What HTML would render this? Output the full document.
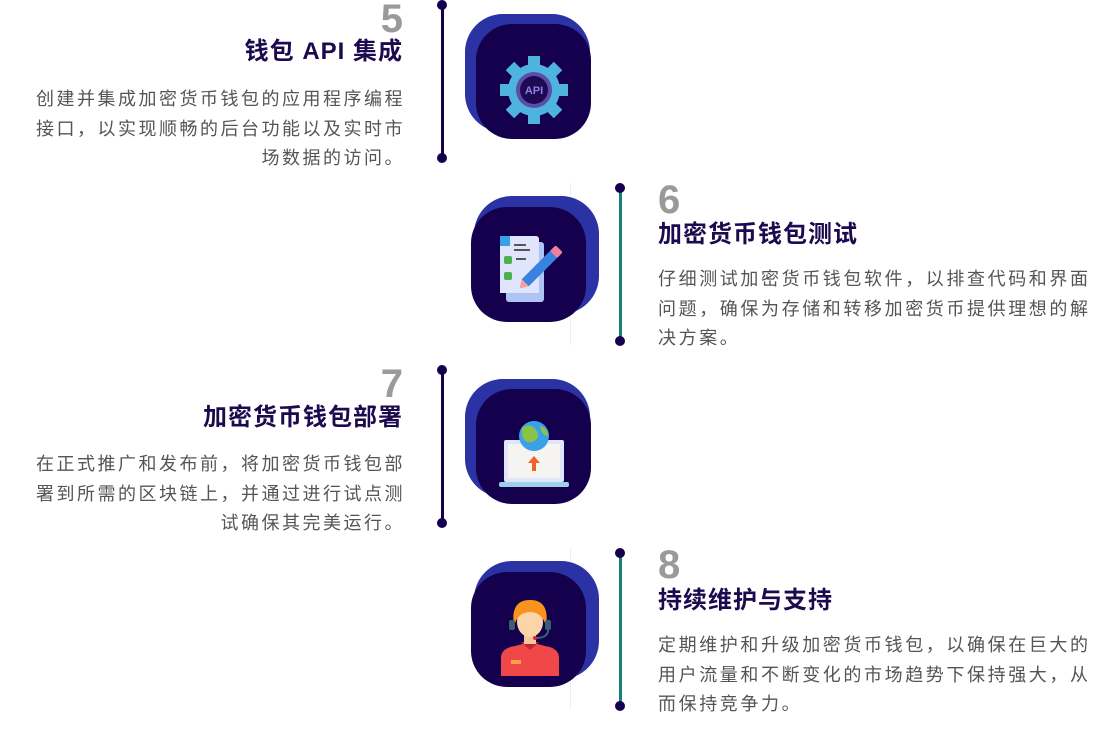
<!DOCTYPE html>
<html><head><meta charset="utf-8"><style>
body{margin:0;width:1119px;height:750px;background:#fff;position:relative;overflow:hidden;font-family:"Liberation Sans","Noto Sans CJK SC",sans-serif}
.a{position:absolute}
.num{font-size:40px;font-weight:bold;color:#9a9a9a;line-height:40px}
.tt{font-size:24px;font-weight:bold;color:#1c0a4e;line-height:32px;letter-spacing:1px}
.ds{font-size:18px;color:#555;line-height:29.5px}
.L{text-align:right;right:716px;width:420px;white-space:nowrap}
.L.ds{letter-spacing:2.5px;right:714px}
.R{left:658px;width:442px}
.R.ds{letter-spacing:2.6px}
.back{position:absolute;width:125px;height:118px;background:#2a32a4;border-radius:38px}
.front{position:absolute;width:115px;height:115px;background:#14004c;border-radius:36px}
.vl{position:absolute;width:3px;background:#14004c}
.dot{position:absolute;width:10px;height:10px;border-radius:50%;background:#14004c}
.gl{position:absolute;width:1px;background:#eee}
</style></head><body>

<!-- 5 -->
<div class="a L num" style="top:-1px">5</div>
<div class="a L tt" style="top:36px">钱包 API 集成</div>
<div class="a L ds" style="top:85px">创建并集成加密货币钱包的应用程序编程<br>接口，以实现顺畅的后台功能以及实时市<br>场数据的访问。</div>
<div class="vl" style="left:441px;top:5px;height:153px"></div>
<div class="dot" style="left:437px;top:0px"></div>
<div class="dot" style="left:437px;top:153px"></div>
<div class="back" style="left:465px;top:14px"></div>
<div class="front" style="left:476px;top:24px"></div>
<svg class="a" style="left:496px;top:52px" width="76" height="76" viewBox="0 0 76 76">
<g fill="#4fb3e0"><circle cx="38" cy="38" r="26"/>
<g id="t"><rect x="32" y="4" width="12" height="12"/></g>
<use href="#t" transform="rotate(45 38 38)"/><use href="#t" transform="rotate(90 38 38)"/><use href="#t" transform="rotate(135 38 38)"/><use href="#t" transform="rotate(180 38 38)"/><use href="#t" transform="rotate(225 38 38)"/><use href="#t" transform="rotate(270 38 38)"/><use href="#t" transform="rotate(315 38 38)"/></g>
<circle cx="38" cy="38" r="18" fill="#5a4fa8"/><circle cx="38" cy="38" r="14" fill="#1e0a50"/>
<text x="38" y="42" font-size="11" font-weight="bold" fill="#8e7ef0" text-anchor="middle" font-family="Liberation Sans">API</text></svg>

<!-- 6 -->
<div class="gl" style="left:570px;top:183px;height:162px"></div>
<div class="vl" style="left:619px;top:188px;height:153px;background:#138080"></div>
<div class="dot" style="left:615px;top:183px"></div>
<div class="dot" style="left:615px;top:336px"></div>
<div class="back" style="left:474px;top:196px"></div>
<div class="front" style="left:471px;top:207px"></div>
<svg class="a" style="left:490px;top:232px" width="80" height="72" viewBox="0 0 80 72">
<rect x="16" y="10" width="38" height="60" rx="3" fill="#aec4f5"/>
<path d="M10 4h36a3 3 0 0 1 3 3v54h-39z" fill="#dfe6fb"/><path d="M10 4h10v10h-10z" fill="#3aa0e8"/>
<rect x="24" y="12" width="12" height="2" fill="#555"/><rect x="24" y="17" width="16" height="2" fill="#555"/>
<rect x="14" y="24" width="8" height="8" rx="2" fill="#4caf50"/><rect x="14" y="40" width="8" height="8" rx="2" fill="#4caf50"/>
<rect x="26" y="26" width="10" height="2" fill="#555"/>
<g transform="rotate(45 48 38)"><rect x="43" y="12" width="10" height="44" fill="#3a82e0"/><rect x="43" y="8" width="10" height="8" rx="2" fill="#f080a0"/><path d="M43 56h10l-5 8z" fill="#f4a0a0"/></g>
</svg>
<div class="a R num" style="top:180px">6</div>
<div class="a R tt" style="top:219px">加密货币钱包测试</div>
<div class="a R ds" style="top:265px">仔细测试加密货币钱包软件，以排查代码和界面问题，确保为存储和转移加密货币提供理想的解决方案。</div>

<!-- 7 -->
<div class="a L num" style="top:364px">7</div>
<div class="a L tt" style="top:402px">加密货币钱包部署</div>
<div class="a L ds" style="top:450px">在正式推广和发布前，将加密货币钱包部<br>署到所需的区块链上，并通过进行试点测<br>试确保其完美运行。</div>
<div class="vl" style="left:441px;top:370px;height:153px"></div>
<div class="dot" style="left:437px;top:365px"></div>
<div class="dot" style="left:437px;top:518px"></div>
<div class="back" style="left:465px;top:379px"></div>
<div class="front" style="left:476px;top:389px"></div>
<svg class="a" style="left:496px;top:418px" width="76" height="72" viewBox="0 0 76 72">
<rect x="8" y="22" width="60" height="42" rx="2" fill="#dfe6fb"/><rect x="12" y="26" width="52" height="34" fill="#f6f4f0"/>
<rect x="3" y="64" width="70" height="5" rx="2" fill="#9fd0ea"/>
<circle cx="38" cy="18" r="15" fill="#3aa0e8"/><path d="M26 10q8-6 14 2t-4 12q-8 2-10-8z" fill="#8bc34a"/><path d="M44 8q8 2 8 10q-6 0-8-10z" fill="#8bc34a"/>
<path d="M38 38l-6 7h4v8h4v-8h4z" fill="#f4602a"/></svg>

<!-- 8 -->
<div class="gl" style="left:570px;top:548px;height:162px"></div>
<div class="vl" style="left:619px;top:553px;height:153px;background:#138080"></div>
<div class="dot" style="left:615px;top:548px"></div>
<div class="dot" style="left:615px;top:701px"></div>
<div class="back" style="left:474px;top:561px"></div>
<div class="front" style="left:471px;top:572px"></div>
<svg class="a" style="left:495px;top:598px" width="70" height="80" viewBox="0 0 70 80">
<path d="M6 78v-18q0-10 14-12l15-4 15 4q14 2 14 12v18z" fill="#f04848"/>
<path d="M26 44l9 8 9-8" fill="#c02838"/><rect x="16" y="62" width="10" height="4" fill="#f8a050"/>
<rect x="29" y="34" width="12" height="12" fill="#f2c898"/>
<ellipse cx="35" cy="24" rx="13" ry="15" fill="#fbd5a8"/>
<path d="M19 28q-4-26 16-26t16 26q-4-14-16-14t-16 14z" fill="#f7931e"/>
<rect x="14" y="22" width="6" height="10" rx="2" fill="#3a6070"/><rect x="50" y="22" width="6" height="10" rx="2" fill="#3a6070"/>
<path d="M53 32q0 8-12 8" stroke="#3a6070" stroke-width="2" fill="none"/><circle cx="40" cy="40" r="2" fill="#e02040"/></svg>
<div class="a R num" style="top:545px">8</div>
<div class="a R tt" style="top:585px">持续维护与支持</div>
<div class="a R ds" style="top:631px">定期维护和升级加密货币钱包，以确保在巨大的用户流量和不断变化的市场趋势下保持强大，从而保持竞争力。</div>
</body></html>
